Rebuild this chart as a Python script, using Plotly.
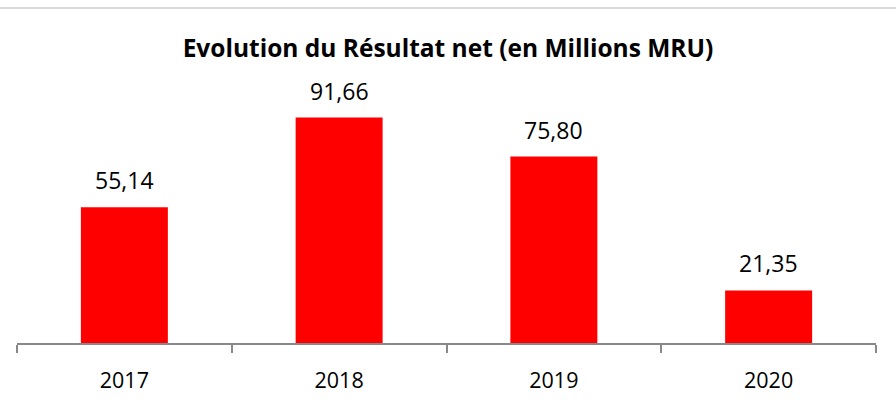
import plotly.graph_objects as go

years = ["2017", "2018", "2019", "2020"]
values = [55.14, 91.66, 75.80, 21.35]
labels = ["55,14", "91,66", "75,80", "21,35"]

FONT = "Open Sans"

fig = go.Figure()
fig.add_trace(go.Bar(
    x=years, y=values,
    marker=dict(color="#FF0000", line=dict(width=0)),
    hoverinfo="skip",
))
# category index positions of the bars
for i, (v, lab) in enumerate(zip(values, labels)):
    fig.add_annotation(x=i, y=v, text=lab, showarrow=False,
                       yanchor="middle", yshift=27,
                       font=dict(size=23, color="#000000", family=FONT))

fig.update_layout(
    width=896, height=400,
    margin=dict(l=17, r=20, t=97, b=57),
    paper_bgcolor="white", plot_bgcolor="white",
    bargap=0.595,
    showlegend=False,
    title=dict(text="<b>Evolution du Résultat net (en Millions MRU)</b>",
               x=0.5, xanchor="center", y=0.88, yanchor="middle",
               font=dict(size=24.5, color="#000000", family=FONT)),
    xaxis=dict(type="category", categoryarray=years, range=[-0.5, len(years) - 0.5],
               showline=True, linecolor="#898989", linewidth=1.5,
               ticks="outside", tickson="boundaries", ticklen=8,
               tickcolor="#898989", tickwidth=1.5,
               ticklabelstandoff=17,
               tickfont=dict(size=21.5, color="#000000", family=FONT),
               showgrid=False, automargin=False),
    yaxis=dict(range=[0, 100], visible=False, showgrid=False),
)
fig.add_shape(type="line", xref="paper", yref="paper",
              x0=-17/859, x1=1 + 20/859, y0=1 + (97 - 8) / 246, y1=1 + (97 - 8) / 246,
              line=dict(color="#D9D9D9", width=2))
fig.write_html("out.html", config={"displayModeBar": False},
               post_script="document.body.style.margin='0';")
